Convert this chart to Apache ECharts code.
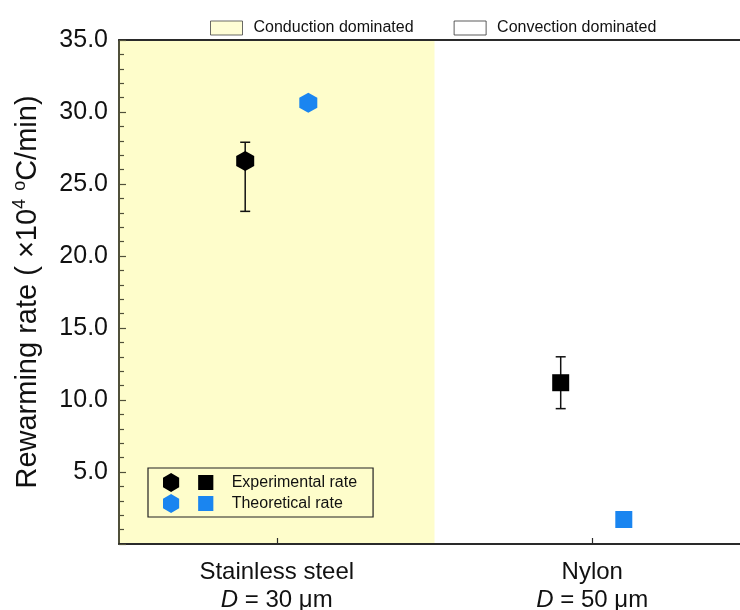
<!DOCTYPE html>
<html>
<head>
<meta charset="utf-8">
<script src="https://cdn.jsdelivr.net/npm/echarts@6/dist/echarts.min.js"></script>
<style>
  html, body { margin: 0; padding: 0; background: #ffffff; }
  #chart { width: 740px; height: 610px; }
</style>
</head>
<body>
<div id="chart"></div>
<script>
// Materials on the x axis and their fibre diameters
const categories = ['Stainless steel', 'Nylon'];
const diameters = ['30 μm', '50 μm'];
const categoryPos = [1, 2];

// Experimental points sit just left of each category, theoretical just right
const expOffset = -0.1;
const theoOffset = 0.1;

// Measured rewarming rate (×10^4 °C/min) with error range
const expRate = [26.6, 11.2];
const expLow = [23.1, 9.4];
const expHigh = [27.9, 13.0];

// Predicted rewarming rate (×10^4 °C/min)
const theoRate = [30.65, 1.7];

// Heat-transfer regimes and the boundary between them on the x scale
const regionNames = ['Conduction dominated', 'Convection dominated'];
const regimeBoundary = 1.5;

// Axis ranges
const xMin = 0.5, xMax = 2.5;
const yMin = 0, yMax = 35, yStep = 5;

const HEX = 'path://M0,-10L8.66,-5L8.66,5L0,10L-8.66,5L-8.66,-5Z';
const SHAPES = [HEX, 'rect'];
const SIZES = [[18, 20], [17, 17]];
const YELLOW = '#fefdcb';
const BLUE = '#1a85f0';
const FONT = '"Liberation Sans", Arial, sans-serif';

const expData = categoryPos.map((c, i) => ({
  value: [c + expOffset, expRate[i]], symbol: SHAPES[i], symbolSize: SIZES[i]
}));
const theoData = categoryPos.map((c, i) => ({
  value: [c + theoOffset, theoRate[i]], symbol: SHAPES[i], symbolSize: SIZES[i]
}));
const errData = categoryPos.map((c, i) => [c + expOffset, expLow[i], expHigh[i]]);

const chart = echarts.init(document.getElementById('chart'), null, { renderer: 'canvas' });

chart.setOption({
  animation: false,
  backgroundColor: '#ffffff',
  textStyle: { fontFamily: FONT },
  // the plot frame runs past the right edge of the canvas
  grid: { left: 119, top: 40, width: 631, height: 504, containLabel: false, outerBoundsMode: 'none' },
  legend: [
    {
      left: 205, top: 15, orient: 'horizontal',
      icon: 'rect', itemWidth: 32, itemHeight: 14, itemGap: 40,
      selectedMode: false,
      textStyle: { fontSize: 16, color: '#111', fontFamily: FONT, padding: [0, 0, 0, 6] },
      data: [
        { name: regionNames[0], itemStyle: { color: YELLOW, borderColor: '#444', borderWidth: 1 } },
        { name: regionNames[1], itemStyle: { color: '#ffffff', borderColor: '#333', borderWidth: 1 } }
      ]
    },
    {
      left: 148, top: 468, orient: 'vertical',
      icon: 'path://M8.5,0L17,5L17,15L8.5,20L0,15L0,5ZM37,2L53,2L53,18L37,18Z',
      itemWidth: 53, itemHeight: 19, itemGap: 2,
      padding: [5, 16, 4, 15],
      borderColor: '#222', borderWidth: 1.2,
      selectedMode: false,
      textStyle: { fontSize: 16, color: '#111', fontFamily: FONT, padding: [0, 0, 0, 12] },
      data: ['Experimental rate', 'Theoretical rate']
    }
  ],
  xAxis: [
    {
      type: 'value', min: xMin, max: xMax, position: 'bottom', z: 10,
      axisLine: { show: true, lineStyle: { color: '#2a2a2a', width: 2 } },
      axisTick: { show: true, inside: true, length: 6, customValues: categoryPos,
        lineStyle: { color: '#2a2a2a', width: 1.2 } },
      axisLabel: {
        show: true, customValues: categoryPos, margin: 14, lineHeight: 28,
        formatter: function (v) {
          const i = categoryPos.indexOf(v);
          if (i < 0) return '';
          return '{n|' + categories[i] + '}\n{i|D}{n| = ' + diameters[i] + '}';
        },
        rich: {
          n: { fontSize: 24, color: '#111', fontFamily: FONT, lineHeight: 28 },
          i: { fontSize: 24, color: '#111', fontFamily: FONT, fontStyle: 'italic', lineHeight: 28 }
        }
      },
      splitLine: { show: false }
    },
    {
      type: 'value', min: xMin, max: xMax, position: 'top', z: 10,
      axisLine: { show: true, lineStyle: { color: '#2a2a2a', width: 2 } },
      axisTick: { show: false }, axisLabel: { show: false }, splitLine: { show: false }
    }
  ],
  yAxis: {
    type: 'value', min: yMin, max: yMax, interval: yStep, z: 10,
    name: 'Rewarming rate {t|( ×10}{s|4}{t| }{s|o}{t|C/min)}',
    nameLocation: 'middle', nameGap: 74,
    nameTextStyle: {
      fontSize: 29, color: '#111', fontFamily: FONT,
      rich: {
        t: { fontSize: 29, color: '#111', fontFamily: FONT, lineHeight: 34 },
        s: { fontSize: 18, color: '#111', fontFamily: FONT, verticalAlign: 'top', lineHeight: 34, padding: [0, 0, 12, 0] }
      }
    },
    axisLine: { show: true, lineStyle: { color: '#50503a', width: 2 } },
    axisTick: { show: true, inside: true, length: 7, lineStyle: { color: '#50503a', width: 1.2 } },
    minorTick: { show: true, splitNumber: 5, length: 5, lineStyle: { color: '#50503a', width: 1.2 } },
    axisLabel: {
      fontSize: 25, color: '#111', fontFamily: FONT, margin: 11,
      formatter: v => (v === 0 ? '' : v.toFixed(1))
    },
    splitLine: { show: false }
  },
  series: [
    {
      name: regionNames[0], type: 'scatter', data: [], z: 0,
      markArea: {
        silent: true,
        itemStyle: { color: YELLOW, borderWidth: 0 },
        data: [[{ xAxis: xMin }, { xAxis: regimeBoundary }]]
      }
    },
    { name: regionNames[1], type: 'scatter', data: [], z: 0 },
    {
      name: 'error', type: 'custom', z: 3, silent: true,
      encode: { x: 0, y: [1, 2] },
      data: errData,
      renderItem: function (params, api) {
        const lo = api.coord([api.value(0), api.value(1)]);
        const hi = api.coord([api.value(0), api.value(2)]);
        const cap = 5;
        const style = { stroke: '#111', lineWidth: 1.5 };
        return {
          type: 'group',
          children: [
            { type: 'line', shape: { x1: lo[0], y1: lo[1], x2: hi[0], y2: hi[1] }, style },
            { type: 'line', shape: { x1: lo[0] - cap, y1: lo[1], x2: lo[0] + cap, y2: lo[1] }, style },
            { type: 'line', shape: { x1: hi[0] - cap, y1: hi[1], x2: hi[0] + cap, y2: hi[1] }, style }
          ]
        };
      }
    },
    {
      name: 'Experimental rate', type: 'scatter', z: 4,
      itemStyle: { color: '#000000', opacity: 1 },
      data: expData
    },
    {
      name: 'Theoretical rate', type: 'scatter', z: 4,
      itemStyle: { color: BLUE, opacity: 1 },
      data: theoData
    }
  ]
});
</script>
</body>
</html>
